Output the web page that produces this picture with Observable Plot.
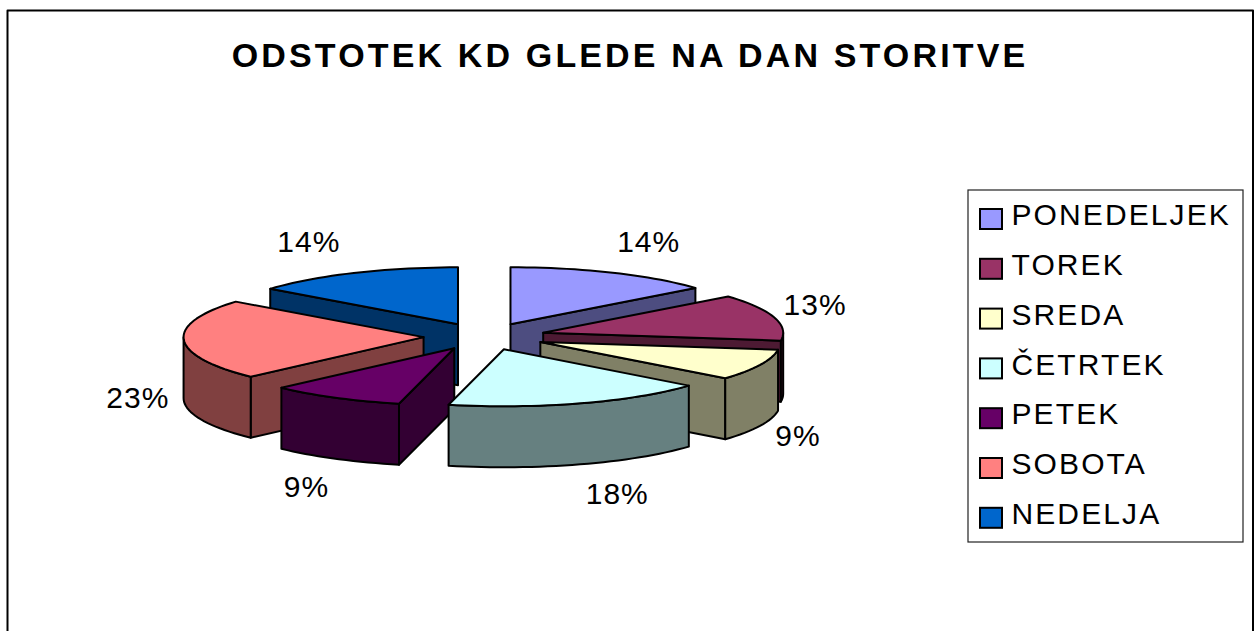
<!DOCTYPE html>
<html><head><meta charset="utf-8">
<style>
html,body{margin:0;padding:0;background:#fff;overflow:hidden}
svg{display:block;font-family:"Liberation Sans",Arial,sans-serif}
</style>
<script src="https://cdn.jsdelivr.net/npm/d3@7"></script>
<script src="https://cdn.jsdelivr.net/npm/@observablehq/plot@0.6"></script>
</head><body><div id="chart"></div>
<script>
const titleText = "ODSTOTEK KD GLEDE NA DAN STORITVE";
const days = ["PONEDELJEK","TOREK","SREDA","ČETRTEK","PETEK","SOBOTA","NEDELJA"];
const shares = [14.0,13.2,8.8,17.7,9.1,22.9,14.3];
const topColors = ["#9999FF","#993366","#FFFFCC","#CCFFFF","#660066","#FF8080","#0066CC"];

// Layout of the tilted, exploded pie
const W = 1254, H = 631;
const pie = {cx:484, cy:336, rx:240, ry:57, ex:61, ey:13.5, depth:61};
const paintOrder = [0,6,1,5,2,4,3];            // back to front
const labelNudge = [[36,-30],[41,-12],[38,71],[37,91],[-29,90],[-46,59],[-45,-31]];

const rad = d => d*Math.PI/180;
const total = d3.sum(shares);
let run = 0;
const slices = shares.map((v,i)=>{
  const a0 = run/total*360; run += v; const a1 = run/total*360;
  const mid = rad((a0+a1)/2);
  const ax = pie.cx + pie.ex*Math.sin(mid), ay = pie.cy - pie.ey*Math.cos(mid);
  const rim = a => [ax + pie.rx*Math.sin(rad(a)), ay - pie.ry*Math.cos(rad(a))];
  return {i,a0,a1,mid,ax,ay,rim,name:days[i],share:v};
});
const half = c => {const k=d3.rgb(c); return d3.rgb(k.r/2,k.g/2,k.b/2).formatHex();};
const arc = (s,a,b) => {const n=Math.max(1,Math.ceil((b-a)/2)); return d3.range(n+1).map(k=>s.rim(a+(b-a)*k/n));};

const faces = [];
const addFace = (pts,color) => {
  const id = faces.length ? faces[faces.length-1].id+1 : 0;
  [...pts,pts[0]].forEach(p=>faces.push({id,x:p[0],y:p[1],color}));
};
for (const idx of paintOrder) {
  const s = slices[idx], side = half(topColors[idx]), d = pie.depth;
  const radial = a => {
    const r = s.rim(a);
    addFace([[s.ax,s.ay],r,[r[0],r[1]+d],[s.ax,s.ay+d]],side);
  };
  if (Math.sin(rad(s.a0)) < -1e-6) radial(s.a0);
  if (Math.sin(rad(s.a1)) > 1e-6) radial(s.a1);
  const w0 = Math.max(s.a0,90), w1 = Math.min(s.a1,270);
  if (w1 > w0) {
    const top = arc(s,w0,w1);
    addFace([...top,...top.slice().reverse().map(p=>[p[0],p[1]+d])],side);
  }
  addFace([[s.ax,s.ay],...arc(s,s.a0,s.a1)],topColors[idx]);
}
const shareLabels = slices.map((s,i)=>{
  const r = s.rim((s.a0+s.a1)/2);
  return {x:r[0]+labelNudge[i][0], y:r[1]+labelNudge[i][1], t:Math.round(s.share)+"%"};
});

const lg = {x1:968,x2:1243,y1:190,y2:542,sw:980,sz:22,top:209,step:49.8,tx:1011,ty:215};
const legendRows = days.map((name,i)=>({name,color:topColors[i],
  x1:lg.sw,x2:lg.sw+lg.sz,y1:lg.top+i*lg.step,y2:lg.top+i*lg.step+lg.sz-2,ty:lg.ty+i*lg.step}));
const frame = [[7,H],[7,10],[1252.5,10],[1252.5,H]].map(([x,y])=>({x,y}));

const chart = Plot.plot({
  width:W,height:H,margin:0,
  x:{domain:[0,W],axis:null},
  y:{domain:[0,H],reverse:true,axis:null},
  marks:[
    Plot.line(frame,{x:"x",y:"y",stroke:"#000",strokeWidth:2}),
    Plot.text([titleText],{x:()=>W/2+2.5,y:()=>56,text:d=>d,fontSize:34,fontWeight:"bold",fill:"#000"}),
    Plot.line(faces,{x:"x",y:"y",z:"id",fill:{value:"color",scale:null},stroke:"#000",strokeWidth:2,strokeLinejoin:"round",curve:"linear"}),
    Plot.text(shareLabels,{x:"x",y:"y",text:"t",fontSize:30,fill:"#000"}),
    Plot.rect([lg],{x1:"x1",x2:"x2",y1:"y1",y2:"y2",fill:"#fff",stroke:"#222",strokeWidth:1.2}),
    Plot.rect(legendRows,{x1:"x1",x2:"x2",y1:"y1",y2:"y2",fill:{value:"color",scale:null},stroke:"#000",strokeWidth:2}),
    Plot.text(legendRows,{x:()=>lg.tx,y:"ty",text:"name",textAnchor:"start",fontSize:30,fill:"#000"})
  ]
});
const textGroups = chart.querySelectorAll('g[aria-label="text"]');
[3.15,1,2.1].forEach((s,i)=>{ if (textGroups[i]) textGroups[i].style.letterSpacing = s+"px"; });
document.getElementById("chart").append(chart);
</script></body></html>
